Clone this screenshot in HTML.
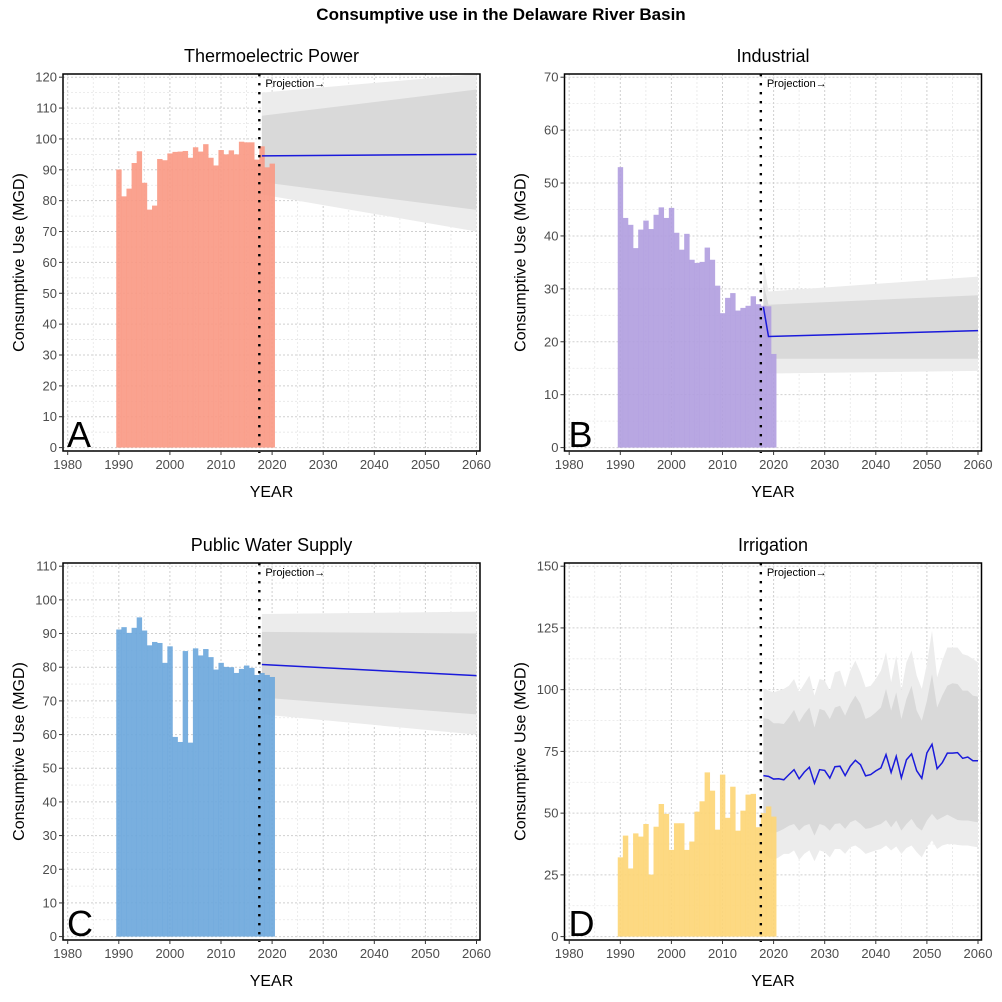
<!DOCTYPE html>
<html><head><meta charset="utf-8"><style>
html,body{margin:0;padding:0;background:#fff;}
svg{display:block;font-family:"Liberation Sans",Arial,sans-serif;}
</style></head><body>
<svg id="chart" width="1002" height="1002" viewBox="0 0 1002 1002">
<text x="501" y="20" text-anchor="middle" font-size="17" font-weight="bold">Consumptive use in the Delaware River Basin</text>
</svg>
<script>
const barYears = [1990,1991,1992,1993,1994,1995,1996,1997,1998,1999,2000,2001,2002,2003,2004,2005,2006,2007,2008,2009,2010,2011,2012,2013,2014,2015,2016,2017,2018,2019,2020];
const thermoValues = [90.1,81.4,83.9,92.2,96,85.8,77.1,78.4,93.5,93.1,95.3,95.8,95.9,96.1,93.9,97.3,95.9,98.3,93.9,91.4,96.4,95,96.3,95,99.1,98.9,98.9,93.3,97.6,90.8,92];
const industrialValues = [53.0,43.4,42.1,37.7,41.2,42.9,41.3,44.0,45.4,43.4,45.3,40.6,37.4,40.4,35.5,34.9,35.1,37.8,35.5,30.6,25.4,28.3,29.2,25.9,26.4,26.8,28.6,27.1,26.8,26.7,17.7];
const publicValues = [91.2,91.9,90.2,91.7,94.8,90.9,86.5,87.5,87.2,81.3,86.2,59.3,57.8,84.8,57.6,85.6,83.5,85.4,83.0,79.3,81.3,80.1,80.0,78.3,79.5,80.5,79.8,77.7,78.3,77.7,77.1];
const irrigationValues = [32.1,40.9,27.6,41.8,40.5,45.6,25.1,44.5,53.7,49.7,35.1,45.9,45.9,35.1,38.5,50.6,54.8,66.5,59.1,43.3,65.6,48.1,60.7,42.9,51.0,57.5,57.8,44.3,50,52.7,48.6];

const thermoProjYears = [2018,2060];
const thermoProjLine = [94.5,95];
const thermoInnerHi = [107.5,116];
const thermoInnerLo = [86,77];
const thermoOuterHi = [115,121];
const thermoOuterLo = [82,70];

const industrialProjYears = [2018,2019,2060];
const industrialProjLine = [26.6,21.0,22.1];
const industrialInnerHi = [31,27,28.8];
const industrialInnerLo = [22,16.8,16.8];
const industrialOuterHi = [35,29.5,32.3];
const industrialOuterLo = [18,14,14.5];

const publicProjYears = [2018,2060];
const publicProjLine = [80.8,77.5];
const publicInnerHi = [90.5,90];
const publicInnerLo = [71,66];
const publicOuterHi = [95.8,96.5];
const publicOuterLo = [66,60];

const irrigationProjYears = [2018,2019,2020,2021,2022,2023,2024,2025,2026,2027,2028,2029,2030,2031,2032,2033,2034,2035,2036,2037,2038,2039,2040,2041,2042,2043,2044,2045,2046,2047,2048,2049,2050,2051,2052,2053,2054,2055,2056,2057,2058,2059,2060];
const irrigationProjLine = [65.2,64.9,63.8,63.9,63.5,65.6,67.6,63.9,66.6,68.6,62.1,67.6,67.3,64.2,68.8,69,65.2,69,71.4,69.6,65.1,65.6,67.1,68.3,73.7,66.5,73.0,64.3,71.6,74.0,67.2,64.1,74.4,77.9,68.0,70.4,74.3,74.3,74.5,72.2,72.7,71.2,71.2];
const irrigationInnerHi = [88.4,88.1,86.4,86.4,86.1,88.8,91.8,86.8,90.2,92.8,84.7,92.2,91.5,88.1,92.8,93.5,89.5,94.2,97.6,94.2,88.1,89.1,90.8,92.8,100.3,91.5,98.9,88.1,96.2,101.6,91.5,87.4,95.5,106.3,92.8,97.6,101.6,102.6,102.3,99.6,99.6,97.6,97.2];
const irrigationOuterHi = [100.5,99.6,98.9,99.6,100.3,101.6,104.3,98.9,102.3,105.7,97.6,104.3,103.7,99.6,107.0,107.7,101.0,107.7,111.7,107.0,101.0,101.6,104.3,107.7,115.1,103.0,113.8,99.6,111.1,115.8,105.7,100.3,110.4,123.9,105.0,111.7,117.1,117.1,117.1,114.4,113.8,112.4,111.1];
const irrigationInnerLo = [44.9,42.2,41.8,42.6,43.6,44.9,45.6,42.9,44.9,45.6,40.9,45.6,44.9,42.9,45.6,45.9,43.6,46.3,47.2,45.6,43.6,44.0,44.9,45.6,47.2,44.3,47.0,42.9,45.6,47.7,44.5,42.9,47.0,49.7,47.2,48.3,49.4,48.3,47.2,47.0,47.0,46.6,46.3];
const irrigationOuterLo = [33.5,32.1,31.0,32.1,33.5,33.5,34.9,31.0,33.5,34.9,30.5,34.9,34.2,32.1,35.5,35.5,33.5,36.2,36.9,35.5,33.5,34.2,34.9,35.5,36.9,34.9,36.5,33.5,35.9,36.9,34.2,32.1,36.2,38.9,35.5,36.9,37.5,37.5,37.1,36.9,36.9,36.5,36.2];

const xTicks = [1980,1990,2000,2010,2020,2030,2040,2050,2060];
const ticksA = [0,10,20,30,40,50,60,70,80,90,100,110,120];
const ticksB = [0,10,20,30,40,50,60,70];
const ticksC = [0,10,20,30,40,50,60,70,80,90,100,110];
const ticksD = [0,25,50,75,100,125,150];

const NS = 'http://www.w3.org/2000/svg';
const svg = document.getElementById('chart');
function mk(tag, attrs, parent){const e=document.createElementNS(NS,tag);for(const k in attrs)e.setAttribute(k,attrs[k]);(parent||svg).appendChild(e);return e;}

function panel(cfg){
  const L=cfg.left,R=cfg.left+417,T=cfg.top,B=cfg.top+377;
  const g=mk('g',{});
  
  
  const xS=v=>L+4.7+(v-1980)*5.11;
  const yS=v=>(B-3.4)-v*(370.4/cfg.vmax);
  const clipId='clip-'+cfg.key;
  const cp=mk('clipPath',{id:clipId},g);mk('rect',{x:L,y:T,width:417,height:377},cp);
  const inner=mk('g',{'clip-path':'url(#'+clipId+')'},g);
  // minor grid
  for(let i=0;i<xTicks.length-1;i++){const x=xS(xTicks[i]+5);mk('line',{x1:x,x2:x,y1:T,y2:B,stroke:'#e6e6e6','stroke-width':0.8,'stroke-dasharray':'2,2'},inner);}
  for(let i=0;i<cfg.ticks.length-1;i++){const y=yS((cfg.ticks[i]+cfg.ticks[i+1])/2);mk('line',{x1:L,x2:R,y1:y,y2:y,stroke:'#e6e6e6','stroke-width':0.8,'stroke-dasharray':'2,2'},inner);}
  xTicks.forEach(t=>{const x=xS(t);mk('line',{x1:x,x2:x,y1:T,y2:B,stroke:'#cfcfcf','stroke-width':1,'stroke-dasharray':'2,2'},inner);});
  cfg.ticks.forEach(t=>{const y=yS(t);mk('line',{x1:L,x2:R,y1:y,y2:y,stroke:'#cfcfcf','stroke-width':1,'stroke-dasharray':'2,2'},inner);});
  // bands
  function band(hi,lo,fill,name){
    let d='';cfg.py.forEach((yr,i)=>{d+=(i?'L':'M')+xS(yr)+','+yS(hi[i]);});
    for(let i=cfg.py.length-1;i>=0;i--)d+='L'+xS(cfg.py[i])+','+yS(lo[i]);
    const p=mk('path',{d:d+'Z',fill:fill},inner);
    
    
  }
  band(cfg.oh,cfg.ol,'#ececec',cfg.key+'-outer-band');
  band(cfg.ih,cfg.il,'#d9d9d9',cfg.key+'-inner-band');
  // bars
  barYears.forEach((yr,i)=>{
    const r=mk('rect',{x:xS(yr-0.5),y:yS(cfg.vals[i]),width:5.11+0.3,height:yS(0)-yS(cfg.vals[i]),fill:cfg.color,'fill-opacity':0.9},inner);
    
    
  });
  // projection line
  const pts=cfg.py.map((yr,i)=>xS(yr)+','+yS(cfg.pl[i])).join(' ');
  const pl=mk('polyline',{points:pts,fill:'none',stroke:'#1a1adb','stroke-width':1.5},inner);
  
  
  // vertical dotted
  const vx=xS(2017.5);
  const vl=mk('line',{x1:vx,x2:vx,y1:T,y2:B+2,stroke:'#000','stroke-width':2.4,'stroke-dasharray':'2.4,6.6'},g);
  
  
  const pt=mk('text',{x:vx+6,y:T+13,'font-size':11},g);pt.textContent='Projection→';
  
  
  // border
  mk('rect',{x:L,y:T,width:417,height:377,fill:'none',stroke:'#000','stroke-width':1.5},g);
  // ticks
  xTicks.forEach(t=>{const x=xS(t);mk('line',{x1:x,x2:x,y1:B,y2:B+4,stroke:'#333','stroke-width':1},g);
    const tx=mk('text',{x:x,y:B+18,'font-size':13,fill:'#4d4d4d','text-anchor':'middle'},g);tx.textContent=t;
    
    });
  cfg.ticks.forEach(t=>{const y=yS(t);mk('line',{x1:L-4,x2:L,y1:y,y2:y,stroke:'#333','stroke-width':1},g);
    const tx=mk('text',{x:L-6,y:y+4.5,'font-size':13,fill:'#4d4d4d','text-anchor':'end'},g);tx.textContent=t;
    
    });
  const ti=mk('text',{x:(L+R)/2,y:T-12,'font-size':18,'text-anchor':'middle'},g);ti.textContent=cfg.title;
  
  
  const xl=mk('text',{x:(L+R)/2,y:B+46,'font-size':16,'text-anchor':'middle'},g);xl.textContent='YEAR';
  
  
  const yl=mk('text',{x:0,y:0,'font-size':16,'text-anchor':'middle',transform:'translate('+(L-39)+','+((T+B)/2)+') rotate(-90)'},g);yl.textContent='Consumptive Use (MGD)';
  
  
  const lt=mk('text',{x:L+4,y:B-4,'font-size':36},g);lt.textContent=cfg.letter;
  
  
}
panel({key:'thermoelectric',title:'Thermoelectric Power',letter:'A',left:63,top:74,vmax:120,ticks:ticksA,color:'#fa9883',vals:thermoValues,py:thermoProjYears,pl:thermoProjLine,ih:thermoInnerHi,il:thermoInnerLo,oh:thermoOuterHi,ol:thermoOuterLo});
panel({key:'industrial',title:'Industrial',letter:'B',left:564.5,top:74,vmax:70,ticks:ticksB,color:'#b09ddf',vals:industrialValues,py:industrialProjYears,pl:industrialProjLine,ih:industrialInnerHi,il:industrialInnerLo,oh:industrialOuterHi,ol:industrialOuterLo});
panel({key:'public-water',title:'Public Water Supply',letter:'C',left:63,top:563,vmax:110,ticks:ticksC,color:'#6aa6dc',vals:publicValues,py:publicProjYears,pl:publicProjLine,ih:publicInnerHi,il:publicInnerLo,oh:publicOuterHi,ol:publicOuterLo});
panel({key:'irrigation',title:'Irrigation',letter:'D',left:564.5,top:563,vmax:150,ticks:ticksD,color:'#fdd574',vals:irrigationValues,py:irrigationProjYears,pl:irrigationProjLine,ih:irrigationInnerHi,il:irrigationInnerLo,oh:irrigationOuterHi,ol:irrigationOuterLo});
</script>
</body></html>
